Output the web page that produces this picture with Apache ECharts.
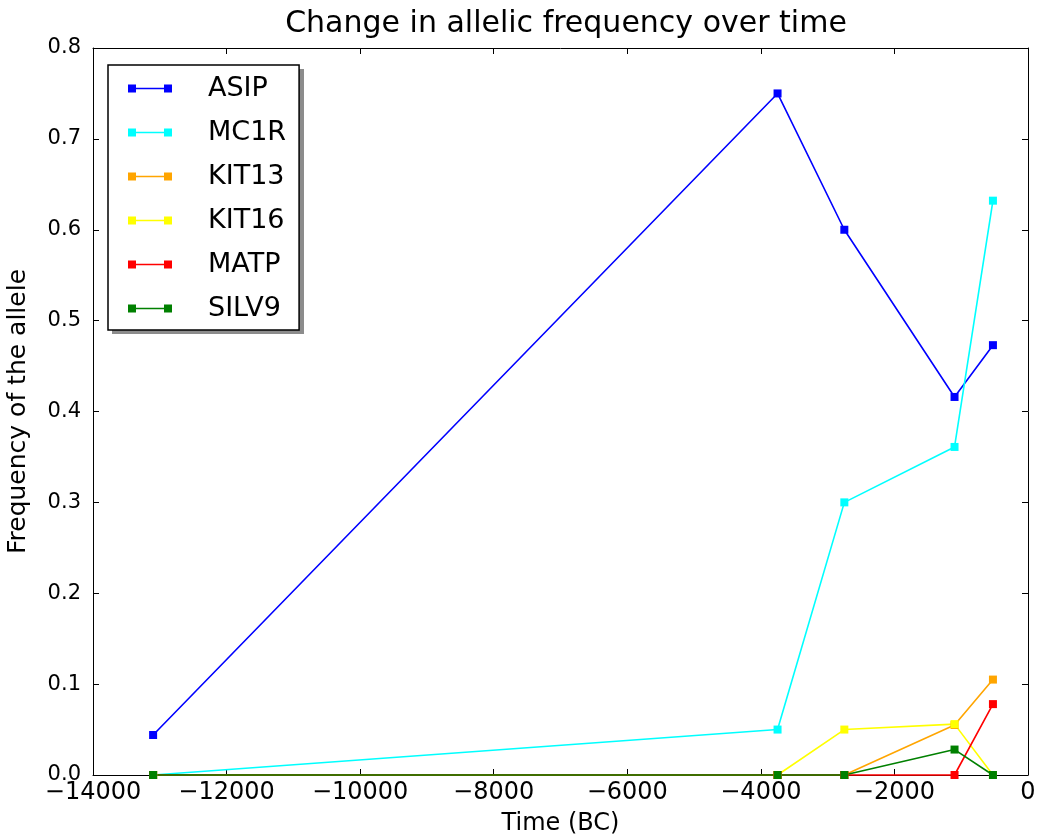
<!DOCTYPE html>
<html>
<head>
<meta charset="utf-8">
<script src="https://cdn.jsdelivr.net/npm/echarts@6/dist/echarts.min.js"></script>
<style>
  html, body { margin: 0; padding: 0; background: #fff; }
  #chart { width: 1041px; height: 838px; }
</style>
</head>
<body>
<div id="chart"></div>
<script>
// time points (BC)
const years = [-13100, -3750, -2750, -1100, -525];
const asip = [0.044, 0.75, 0.6, 0.416, 0.473];
const mc1r = [0.0, 0.05, 0.3, 0.361, 0.632];
const kit13 = [0.0, 0.0, 0.0, 0.055, 0.105];
const kit16 = [0.0, 0.0, 0.05, 0.056, 0.0];
const matp = [0.0, 0.0, 0.0, 0.0, 0.078];
const silv9 = [0.0, 0.0, 0.0, 0.028, 0.0];

const names = ['ASIP', 'MC1R', 'KIT13', 'KIT16', 'MATP', 'SILV9'];
const colors = ['#0000ff', '#00ffff', '#ffa500', '#ffff00', '#ff0000', '#008000'];
const values = [asip, mc1r, kit13, kit16, matp, silv9];

const font = 'DejaVu Sans';
const minus = v => String(v).replace('-', '\u2212');
// matplotlib-style legend handle: two squares joined by a line
const legendIcon = 'path://M0,0h8v8h-8z M36,0h8v8h-8z M8,3.2h28v1.6h-28z';

const chart = echarts.init(document.getElementById('chart'));

const series = names.map((n, i) => ({
  name: n,
  type: 'line',
  data: years.map((x, j) => [x, values[i][j]]),
  symbol: 'rect',
  symbolSize: 8,
  showAllSymbol: true,
  lineStyle: { color: colors[i], width: 1.6 },
  itemStyle: { color: colors[i] },
  clip: false,
  animation: false
}));

const tickIn = { show: true, inside: true, length: 6, lineStyle: { color: '#000' } };

let option = {
  backgroundColor: '#fff',
  animation: false,
  title: {
    text: 'Change in allelic frequency over time',
    left: 561,
    top: 4,
    textAlign: 'center',
    textStyle: { fontFamily: font, fontSize: 30, fontWeight: 'normal', color: '#000' }
  },
  grid: { left: 93, right: 13, top: 48, bottom: 63, containLabel: false, outerBoundsMode: 'none' },
  // legend drop shadow
  graphic: [{
    type: 'rect',
    shape: { x: 112, y: 69, width: 192, height: 265 },
    style: { fill: 'rgba(0,0,0,0.45)' },
    z: 1
  }],
  legend: {
    orient: 'vertical',
    left: 108,
    top: 65,
    padding: [10, 13, 8, 20],
    itemGap: 17,
    itemWidth: 44,
    itemHeight: 8,
    icon: legendIcon,
    itemStyle: { borderWidth: 0 },
    borderColor: '#000',
    borderWidth: 1.5,
    backgroundColor: '#fff',
    z: 10,
    textStyle: { fontFamily: font, fontSize: 27, color: '#000', padding: [0, 0, 0, 31] },
    data: names
  },
  xAxis: [{
    type: 'value',
    min: -14000,
    max: 0,
    interval: 2000,
    name: 'Time (BC)',
    nameLocation: 'middle',
    nameGap: 37,
    nameTextStyle: { fontFamily: font, fontSize: 24, color: '#000' },
    axisLine: { show: true, onZero: false, lineStyle: { color: '#000', width: 1 } },
    axisTick: tickIn,
    splitLine: { show: false },
    axisLabel: { fontFamily: font, fontSize: 24, color: '#000', margin: 6, formatter: minus }
  }, {
    type: 'value',
    position: 'top',
    min: -14000,
    max: 0,
    interval: 2000,
    axisLine: { show: true, onZero: false, lineStyle: { color: '#000', width: 1 } },
    axisTick: tickIn,
    splitLine: { show: false },
    axisLabel: { show: false }
  }],
  yAxis: [{
    type: 'value',
    min: 0,
    max: 0.8,
    interval: 0.1,
    name: 'Frequency of the allele',
    nameLocation: 'middle',
    nameGap: 62,
    nameTextStyle: { fontFamily: font, fontSize: 25, color: '#000' },
    axisLine: { show: true, onZero: false, lineStyle: { color: '#000', width: 1 } },
    axisTick: tickIn,
    splitLine: { show: false },
    axisLabel: { fontFamily: font, fontSize: 21, color: '#000', margin: 12, formatter: v => v.toFixed(1) }
  }, {
    type: 'value',
    position: 'right',
    min: 0,
    max: 0.8,
    interval: 0.1,
    axisLine: { show: true, onZero: false, lineStyle: { color: '#000', width: 1 } },
    axisTick: tickIn,
    splitLine: { show: false },
    axisLabel: { show: false }
  }],
  series: series
};
chart.setOption(option);
</script>
</body>
</html>
